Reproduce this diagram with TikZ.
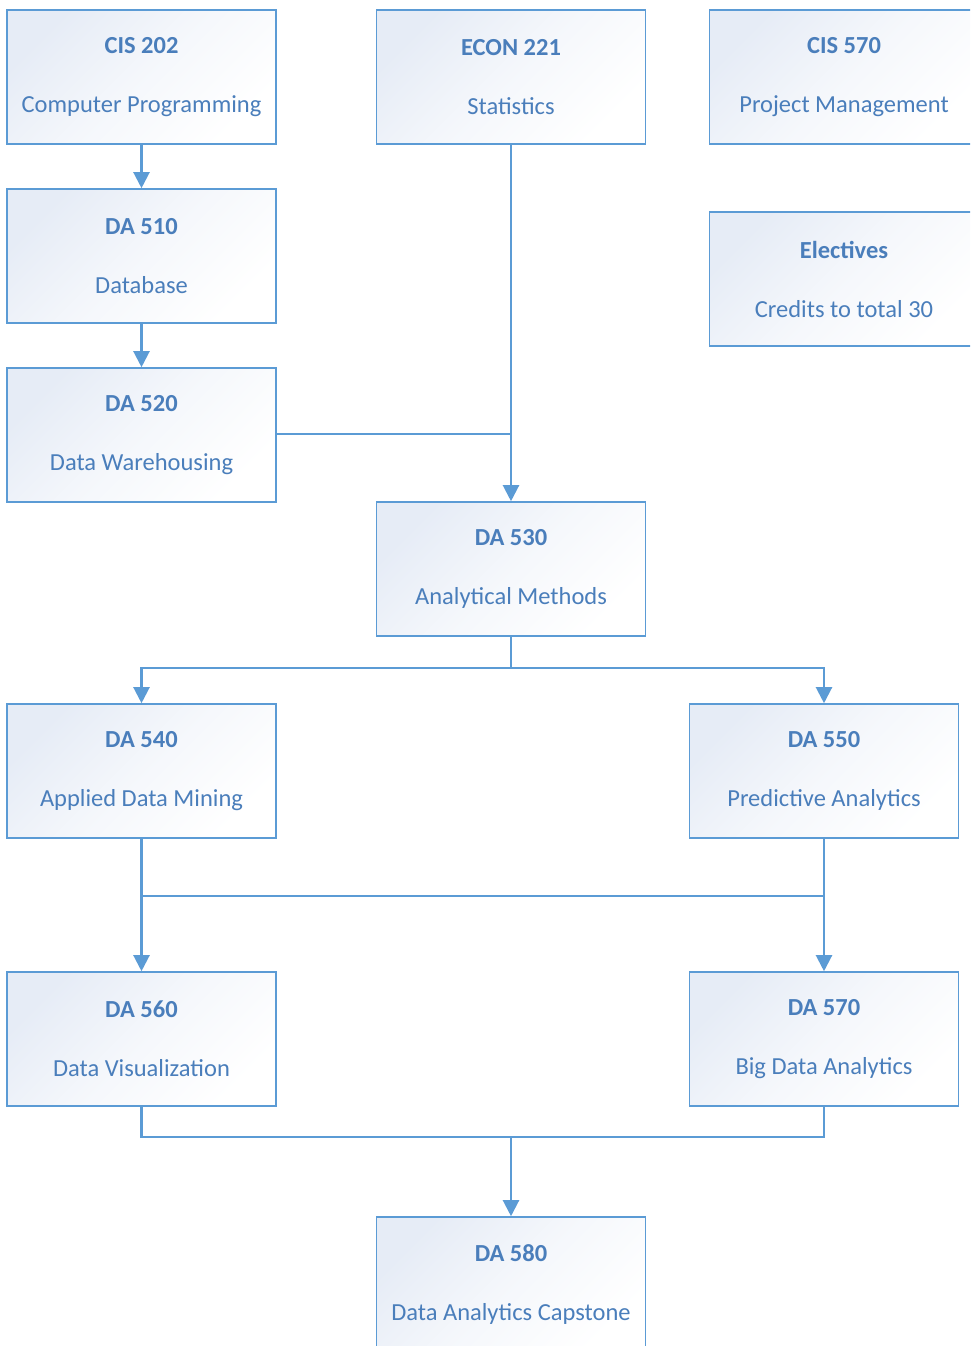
\documentclass[tikz,border=0pt]{standalone}
\usepackage{fontspec}
\setmainfont{Carlito}
\usetikzlibrary{arrows.meta}
\definecolor{lineblue}{HTML}{5B9BD5}
\definecolor{txtblue}{HTML}{4A7EBB}
\definecolor{boxtop}{HTML}{E6ECF6}
\tikzset{
  course/.style={draw=lineblue, line width=1.6pt, minimum width=269pt, minimum height=134pt,
    inner sep=0pt, align=center, text=txtblue, font=\fontsize{24.5}{59}\selectfont,
    top color=boxtop, bottom color=white, middle color=white!60!boxtop, shading angle=45},
  link/.style={draw=lineblue, line width=2.2pt},
  arr/.style={link, -{Triangle[width=16pt,length=16pt]}}
}
\begin{document}
\begin{tikzpicture}[x=1pt,y=-1pt]
\clip (0,0) rectangle (970,1346);
\fill[white] (0,0) rectangle (970,1346);
\node[course] (cis202) at (141.5,77) {\textbf{CIS 202}\\Computer Programming};
\node[course] (econ221) at (511,77) {\textbf{ECON 221}\\Statistics};
\node[course] (cis570) at (844,77) {\textbf{CIS 570}\\Project Management};
\node[course] (da510) at (141.5,256) {\textbf{DA 510}\\Database};
\node[course] (elec) at (844,279) {\textbf{Electives}\\Credits to total 30};
\node[course] (da520) at (141.5,435) {\textbf{DA 520}\\Data Warehousing};
\node[course] (da530) at (511,569) {\textbf{DA 530}\\Analytical Methods};
\node[course] (da540) at (141.5,771) {\textbf{DA 540}\\Applied Data Mining};
\node[course] (da550) at (824,771) {\textbf{DA 550}\\Predictive Analytics};
\node[course] (da560) at (141.5,1039) {\textbf{DA 560}\\Data Visualization};
\node[course] (da570) at (824,1039) {\textbf{DA 570}\\Big Data Analytics};
\node[course] (da580) at (511,1284) {\textbf{DA 580}\\Data Analytics Capstone};
\coordinate (j520) at (511,434);
\coordinate (s530) at (511,668);
\coordinate (m45) at (141.5,896);
\coordinate (s67) at (141.5,1137);
\coordinate (j580) at (511,1137);
\draw[arr] (cis202) -- (da510);
\draw[arr] (da510) -- (da520);
\draw[arr] (econ221) -- (da530);
\draw[link] (da520.east |- j520) -- (j520);
\draw[arr] (da530.south) -- (s530) -| (da540.north);
\draw[arr] (s530) -| (da550.north);
\draw[arr] (da540) -- (da560);
\draw[arr] (da550) -- (da570);
\draw[link] (m45) -- (m45 -| da550);
\draw[link] (da560.south) -- (s67) -| (da570.south);
\draw[arr] (j580) -- (da580);
\end{tikzpicture}
\end{document}
